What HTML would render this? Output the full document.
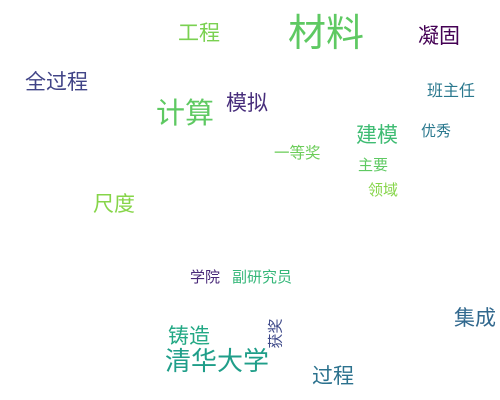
<!DOCTYPE html>
<html><head><meta charset="utf-8"><style>
html,body{margin:0;padding:0;background:#fff;width:500px;height:400px;overflow:hidden;position:relative}
span{position:absolute;white-space:nowrap;line-height:1;font-family:"Liberation Sans","Noto Sans CJK SC",sans-serif}
</style></head><body>
<span style="left:288px;top:15px;font-size:38px;color:#5ec962">材料</span>
<span style="left:178px;top:23px;font-size:21px;color:#7ad151">工程</span>
<span style="left:418px;top:26px;font-size:21px;color:#440154">凝固</span>
<span style="left:25px;top:72px;font-size:21px;color:#414487">全过程</span>
<span style="left:427px;top:84px;font-size:16px;color:#2a788e">班主任</span>
<span style="left:156px;top:100px;font-size:29px;color:#5ec962">计算</span>
<span style="left:226px;top:93px;font-size:21px;color:#472d7b">模拟</span>
<span style="left:356px;top:125px;font-size:21px;color:#3fbc73">建模</span>
<span style="left:421px;top:124px;font-size:15px;color:#2a788e">优秀</span>
<span style="left:274px;top:146px;font-size:15.5px;color:#6ccd5a">一等奖</span>
<span style="left:358px;top:158px;font-size:15px;color:#5ec962">主要</span>
<span style="left:368px;top:183px;font-size:15px;color:#86d549">领域</span>
<span style="left:93px;top:194px;font-size:21px;color:#86d549">尺度</span>
<span style="left:190px;top:270px;font-size:15px;color:#482878">学院</span>
<span style="left:232px;top:270px;font-size:15px;color:#35b779">副研究员</span>
<span style="left:454px;top:308px;font-size:21px;color:#31688e">集成</span>
<span style="left:261px;top:326px;font-size:15px;color:#3e4989;transform:rotate(-90deg);transform-origin:15px 7.5px">获奖</span>
<span style="left:168px;top:326px;font-size:21px;color:#22a884">铸造</span>
<span style="left:165px;top:348px;font-size:26px;color:#1f9e89">清华大学</span>
<span style="left:312px;top:366px;font-size:21px;color:#2c728e">过程</span>
</body></html>
